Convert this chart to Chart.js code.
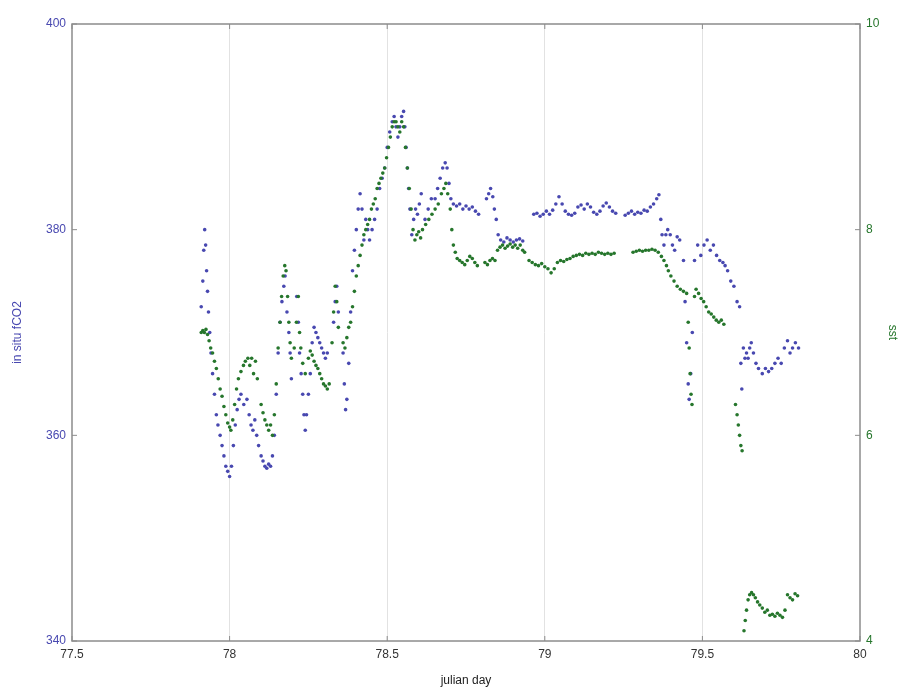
<!DOCTYPE html>
<html><head><meta charset="utf-8">
<script src="https://cdn.jsdelivr.net/npm/chart.js@4/dist/chart.umd.min.js"></script>
<style>html,body{margin:0;padding:0;background:#fff}#wrap{width:908px;height:691px}</style>
</head><body><div id="wrap"><canvas id="c" width="908" height="691"></canvas></div>
<script>
const xTicks = [77.5, 78, 78.5, 79, 79.5, 80];
const leftTicks = [340, 360, 380, 400];
const rightTicks = [4, 6, 8, 10];
const xTitle = 'julian day';
const leftTitle = 'in situ fCO2';
const rightTitle = 'sst';

// [julian day, in situ fCO2]
const fco2Points = [
[77.910,372.5],[77.915,375],[77.918,378],[77.921,380],[77.924,378.5],[77.927,376],[77.930,374],[77.933,372],
[77.937,370],[77.941,368],[77.946,366],[77.952,364],[77.958,362],[77.963,361],[77.970,360],[77.976,359],
[77.982,358],[77.988,357],[77.994,356.5],[78.000,356],[78.006,357],[78.012,359],[78.018,361],[78.024,362.5],
[78.030,363.5],[78.036,364],[78.045,363],[78.055,363.5],[78.062,362],[78.068,361],[78.074,360.5],[78.080,361.5],
[78.086,360],[78.092,359],[78.100,358],[78.106,357.5],[78.112,357],[78.118,356.8],[78.124,357.2],[78.130,357],
[78.136,358],[78.142,360],[78.148,364],[78.154,368],[78.160,371],[78.166,373],[78.172,374.5],[78.176,375.5],
[78.182,372],[78.188,370],[78.192,368],[78.196,365.5],[78.213,373.5],[78.218,371],[78.222,368],[78.227,366],
[78.232,364],[78.236,362],[78.240,360.5],[78.244,362],[78.250,364],[78.256,366],[78.262,369],[78.268,370.5],
[78.274,370],[78.280,369.5],[78.286,369],[78.292,368.5],[78.298,368],[78.304,367.5],[78.310,368],[78.330,371],
[78.335,373],[78.340,374.5],[78.345,372],[78.360,368],[78.364,365],[78.368,362.5],[78.372,363.5],[78.378,367],
[78.384,372],[78.390,376],[78.396,378],[78.402,380],[78.408,382],[78.414,383.5],[78.420,382],[78.426,379],
[78.432,381],[78.438,380],[78.444,379],[78.452,380],[78.460,381],[78.468,382],[78.476,384],[78.484,385],
[78.492,386],[78.500,388],[78.508,389.5],[78.516,390.5],[78.522,391],[78.528,390],[78.534,389],[78.540,390],
[78.546,391],[78.552,391.5],[78.556,390],[78.560,388],[78.564,386],[78.568,384],[78.572,382],[78.578,379.5],
[78.584,381],[78.590,382],[78.596,381.5],[78.602,382.5],[78.608,383.5],[78.620,381],[78.630,382],[78.640,383],
[78.652,383],[78.660,384],[78.668,385],[78.676,386],[78.684,386.5],[78.690,386],[78.696,384.5],[78.702,383],
[78.710,382.5],[78.720,382.3],[78.730,382.5],[78.740,382],[78.750,382.3],[78.760,382],[78.770,382.2],[78.780,381.8],
[78.790,381.5],[78.815,383],[78.822,383.5],[78.828,384],[78.835,383.2],[78.840,382],[78.846,381],[78.852,379.5],
[78.860,379],[78.870,378.8],[78.880,379.2],[78.890,379],[78.900,378.8],[78.910,379],[78.920,379.1],[78.930,378.9],
[78.965,381.5],[78.975,381.6],[78.985,381.3],[78.995,381.5],[79.005,381.8],[79.015,381.5],[79.025,381.9],[79.035,382.5],
[79.045,383.2],[79.055,382.5],[79.065,381.8],[79.075,381.5],[79.085,381.4],[79.095,381.6],[79.105,382.2],[79.115,382.4],
[79.125,382.0],[79.135,382.5],[79.145,382.2],[79.155,381.7],[79.165,381.5],[79.175,381.8],[79.185,382.3],[79.195,382.6],
[79.205,382.2],[79.215,381.8],[79.225,381.6],[79.255,381.4],[79.265,381.6],[79.275,381.8],[79.285,381.5],[79.295,381.7],
[79.305,381.6],[79.315,381.9],[79.325,381.8],[79.335,382.2],[79.345,382.5],[79.355,383.0],[79.362,383.4],[79.368,381],
[79.372,379.5],[79.378,378.5],[79.384,379.5],[79.390,380],[79.398,379.5],[79.405,378.5],[79.412,378],[79.420,379.3],
[79.428,379],[79.440,377],[79.445,373],[79.450,369],[79.455,365],[79.458,363.5],[79.463,366],[79.468,370],
[79.475,377],[79.485,378.5],[79.495,377.5],[79.505,378.5],[79.515,379],[79.525,378],[79.535,378.5],[79.545,377.5],
[79.555,377],[79.565,376.8],[79.572,376.5],[79.580,376],[79.590,375],[79.600,374.5],[79.610,373],[79.618,372.5],
[79.622,367],[79.625,364.5],[79.630,368.5],[79.635,367.5],[79.640,368],[79.645,367.5],[79.650,368.5],[79.655,369],
[79.662,368],[79.670,367],[79.678,366.5],[79.690,366],[79.700,366.5],[79.710,366.2],[79.720,366.5],[79.730,367],
[79.740,367.5],[79.750,367],[79.760,368.5],[79.770,369.2],[79.778,368],[79.786,368.5],[79.795,369],[79.805,368.5]
];

// [julian day, sst]
const sstPoints = [
[77.910,7.0],[77.915,7.02],[77.920,7.0],[77.925,7.03],[77.930,6.98],[77.935,6.92],[77.940,6.85],[77.946,6.8],
[77.952,6.72],[77.958,6.65],[77.964,6.55],[77.970,6.45],[77.976,6.38],[77.982,6.28],[77.988,6.2],[77.994,6.12],
[78.000,6.08],[78.004,6.05],[78.010,6.15],[78.016,6.3],[78.022,6.45],[78.028,6.55],[78.036,6.62],[78.044,6.68],
[78.050,6.72],[78.058,6.75],[78.064,6.68],[78.070,6.75],[78.076,6.6],[78.082,6.72],[78.088,6.55],[78.100,6.3],
[78.106,6.22],[78.112,6.15],[78.118,6.1],[78.124,6.05],[78.130,6.1],[78.136,6.0],[78.142,6.2],[78.148,6.5],
[78.154,6.85],[78.160,7.1],[78.165,7.35],[78.170,7.55],[78.175,7.65],[78.179,7.6],[78.184,7.35],[78.188,7.1],
[78.192,6.9],[78.196,6.75],[78.205,6.85],[78.212,7.1],[78.218,7.35],[78.222,7.0],[78.226,6.85],[78.232,6.7],
[78.240,6.6],[78.250,6.75],[78.256,6.82],[78.262,6.78],[78.268,6.72],[78.274,6.68],[78.280,6.65],[78.286,6.6],
[78.292,6.55],[78.298,6.5],[78.304,6.48],[78.310,6.45],[78.316,6.5],[78.325,6.9],[78.330,7.2],[78.335,7.45],
[78.340,7.3],[78.345,7.05],[78.360,6.9],[78.366,6.85],[78.372,6.95],[78.378,7.05],[78.384,7.1],[78.390,7.25],
[78.396,7.4],[78.402,7.55],[78.408,7.65],[78.414,7.75],[78.420,7.85],[78.426,7.95],[78.432,8.0],[78.438,8.05],
[78.444,8.1],[78.450,8.2],[78.456,8.25],[78.462,8.3],[78.468,8.4],[78.474,8.45],[78.480,8.5],[78.486,8.55],
[78.492,8.6],[78.498,8.7],[78.504,8.8],[78.510,8.9],[78.516,9.0],[78.522,9.05],[78.528,9.05],[78.534,9.0],
[78.540,8.95],[78.546,9.05],[78.552,9.0],[78.558,8.8],[78.564,8.6],[78.570,8.4],[78.576,8.2],[78.582,8.0],
[78.588,7.9],[78.594,7.95],[78.600,7.98],[78.606,7.92],[78.612,8.0],[78.622,8.05],[78.632,8.1],[78.642,8.15],
[78.652,8.2],[78.662,8.25],[78.672,8.35],[78.680,8.4],[78.686,8.45],[78.692,8.35],[78.700,8.2],[78.705,8.0],
[78.710,7.85],[78.716,7.78],[78.722,7.72],[78.730,7.7],[78.738,7.68],[78.746,7.66],[78.754,7.7],[78.762,7.74],
[78.770,7.72],[78.778,7.68],[78.786,7.65],[78.810,7.68],[78.818,7.66],[78.826,7.7],[78.834,7.72],[78.842,7.7],
[78.850,7.8],[78.858,7.83],[78.866,7.85],[78.874,7.82],[78.882,7.84],[78.890,7.86],[78.898,7.83],[78.906,7.85],
[78.914,7.82],[78.922,7.85],[78.930,7.8],[78.936,7.78],[78.950,7.7],[78.960,7.68],[78.970,7.66],[78.980,7.65],
[78.990,7.67],[79.000,7.64],[79.010,7.62],[79.020,7.58],[79.030,7.62],[79.040,7.68],[79.050,7.7],[79.060,7.69],
[79.070,7.71],[79.080,7.72],[79.090,7.74],[79.100,7.75],[79.110,7.76],[79.120,7.75],[79.130,7.77],[79.140,7.76],
[79.150,7.77],[79.160,7.76],[79.170,7.78],[79.180,7.77],[79.190,7.76],[79.200,7.77],[79.210,7.76],[79.220,7.77],
[79.280,7.78],[79.290,7.79],[79.300,7.8],[79.310,7.79],[79.320,7.8],[79.330,7.8],[79.340,7.81],[79.350,7.8],
[79.360,7.78],[79.370,7.74],[79.378,7.7],[79.386,7.65],[79.392,7.6],[79.400,7.55],[79.410,7.5],[79.420,7.45],
[79.430,7.42],[79.440,7.4],[79.450,7.38],[79.455,7.1],[79.458,6.85],[79.461,6.6],[79.464,6.4],[79.467,6.3],
[79.475,7.35],[79.480,7.42],[79.488,7.38],[79.496,7.33],[79.504,7.3],[79.512,7.25],[79.520,7.2],[79.528,7.18],
[79.536,7.15],[79.544,7.12],[79.552,7.1],[79.560,7.12],[79.568,7.08],[79.605,6.3],[79.610,6.2],[79.614,6.1],
[79.618,6.0],[79.622,5.9],[79.626,5.85],[79.632,4.1],[79.636,4.2],[79.640,4.3],[79.645,4.4],[79.650,4.45],
[79.656,4.47],[79.662,4.45],[79.668,4.42],[79.675,4.38],[79.682,4.35],[79.690,4.32],[79.698,4.28],[79.706,4.3],
[79.714,4.25],[79.722,4.26],[79.730,4.24],[79.738,4.27],[79.746,4.25],[79.754,4.23],[79.762,4.3],[79.770,4.45],
[79.778,4.42],[79.786,4.4],[79.794,4.46],[79.802,4.44]
];

const BLUE = 'rgb(72,72,176)';
const GREEN = 'rgb(38,118,44)';
const FONT = "'Liberation Sans Narrow', 'Liberation Sans', Arial, sans-serif";

const framePlugin = {
  id: 'frame',
  afterDraw(chart) {
    const {ctx, chartArea: a, scales} = chart;
    ctx.save();
    ctx.strokeStyle = '#8c8c8c';
    ctx.lineWidth = 1.5;
    ctx.strokeRect(a.left, a.top, a.right - a.left, a.bottom - a.top);
    ctx.lineWidth = 1;
    const seg = (x1, y1, x2, y2) => { ctx.beginPath(); ctx.moveTo(x1, y1); ctx.lineTo(x2, y2); ctx.stroke(); };
    xTicks.forEach(v => { const p = scales.x.getPixelForValue(v); seg(p, a.bottom, p, a.bottom - 5); seg(p, a.top, p, a.top + 5); });
    leftTicks.forEach(v => { const p = scales.y.getPixelForValue(v); seg(a.left, p, a.left + 5, p); });
    rightTicks.forEach(v => { const p = scales.y1.getPixelForValue(v); seg(a.right, p, a.right - 5, p); });
    ctx.restore();
  }
};

new Chart(document.getElementById('c'), {
  type: 'scatter',
  data: {
    datasets: [
      { label: 'sst', yAxisID: 'y1', order: 1,
        data: sstPoints.map(p => ({x: p[0], y: p[1]})),
        backgroundColor: GREEN, borderWidth: 0, pointRadius: 1.8, pointHoverRadius: 1.8 },
      { label: 'in situ fCO2', yAxisID: 'y', order: 2,
        data: fco2Points.map(p => ({x: p[0], y: p[1]})),
        backgroundColor: BLUE, borderWidth: 0, pointRadius: 1.8, pointHoverRadius: 1.8 }
    ]
  },
  options: {
    responsive: false,
    animation: false,
    devicePixelRatio: 1,
    layout: { padding: { top: 24, left: 0, right: 0, bottom: 0 } },
    plugins: { legend: { display: false }, tooltip: { enabled: false } },
    scales: {
      x: {
        type: 'linear', min: 77.5, max: 80,
        afterBuildTicks: s => { s.ticks = xTicks.map(v => ({value: v})); },
        afterFit: s => { s.height = 50; },
        ticks: { color: '#333', font: { family: FONT, size: 12 }, padding: 6, maxRotation: 0,
                 callback: v => String(v) },
        grid: { color: ctx => (ctx.tick && (ctx.tick.value === 77.5 || ctx.tick.value === 80)) ? 'rgba(0,0,0,0)' : '#e2e2e2',
                lineWidth: 1, drawTicks: false },
        border: { display: false },
        title: { display: true, text: xTitle, color: '#222', font: { family: FONT, size: 12 }, padding: { top: 0, bottom: 3 } }
      },
      y: {
        type: 'linear', position: 'left', min: 340, max: 400,
        afterBuildTicks: s => { s.ticks = leftTicks.map(v => ({value: v})); },
        afterFit: s => { s.width = 72; },
        ticks: { color: BLUE, font: { family: FONT, size: 12 }, padding: 6 },
        grid: { display: false, drawTicks: false },
        border: { display: false },
        title: { display: true, text: leftTitle, color: BLUE, font: { family: FONT, size: 12 }, padding: { top: 10, bottom: 0 } }
      },
      y1: {
        type: 'linear', position: 'right', min: 4, max: 10,
        afterBuildTicks: s => { s.ticks = rightTicks.map(v => ({value: v})); },
        afterFit: s => { s.width = 48; },
        ticks: { color: GREEN, font: { family: FONT, size: 12 }, padding: 6 },
        grid: { display: false, drawTicks: false },
        border: { display: false },
        title: { display: true, text: rightTitle, color: GREEN, font: { family: FONT, size: 12 }, padding: { top: 8, bottom: 0 } }
      }
    }
  },
  plugins: [framePlugin]
});
</script>
</body></html>
